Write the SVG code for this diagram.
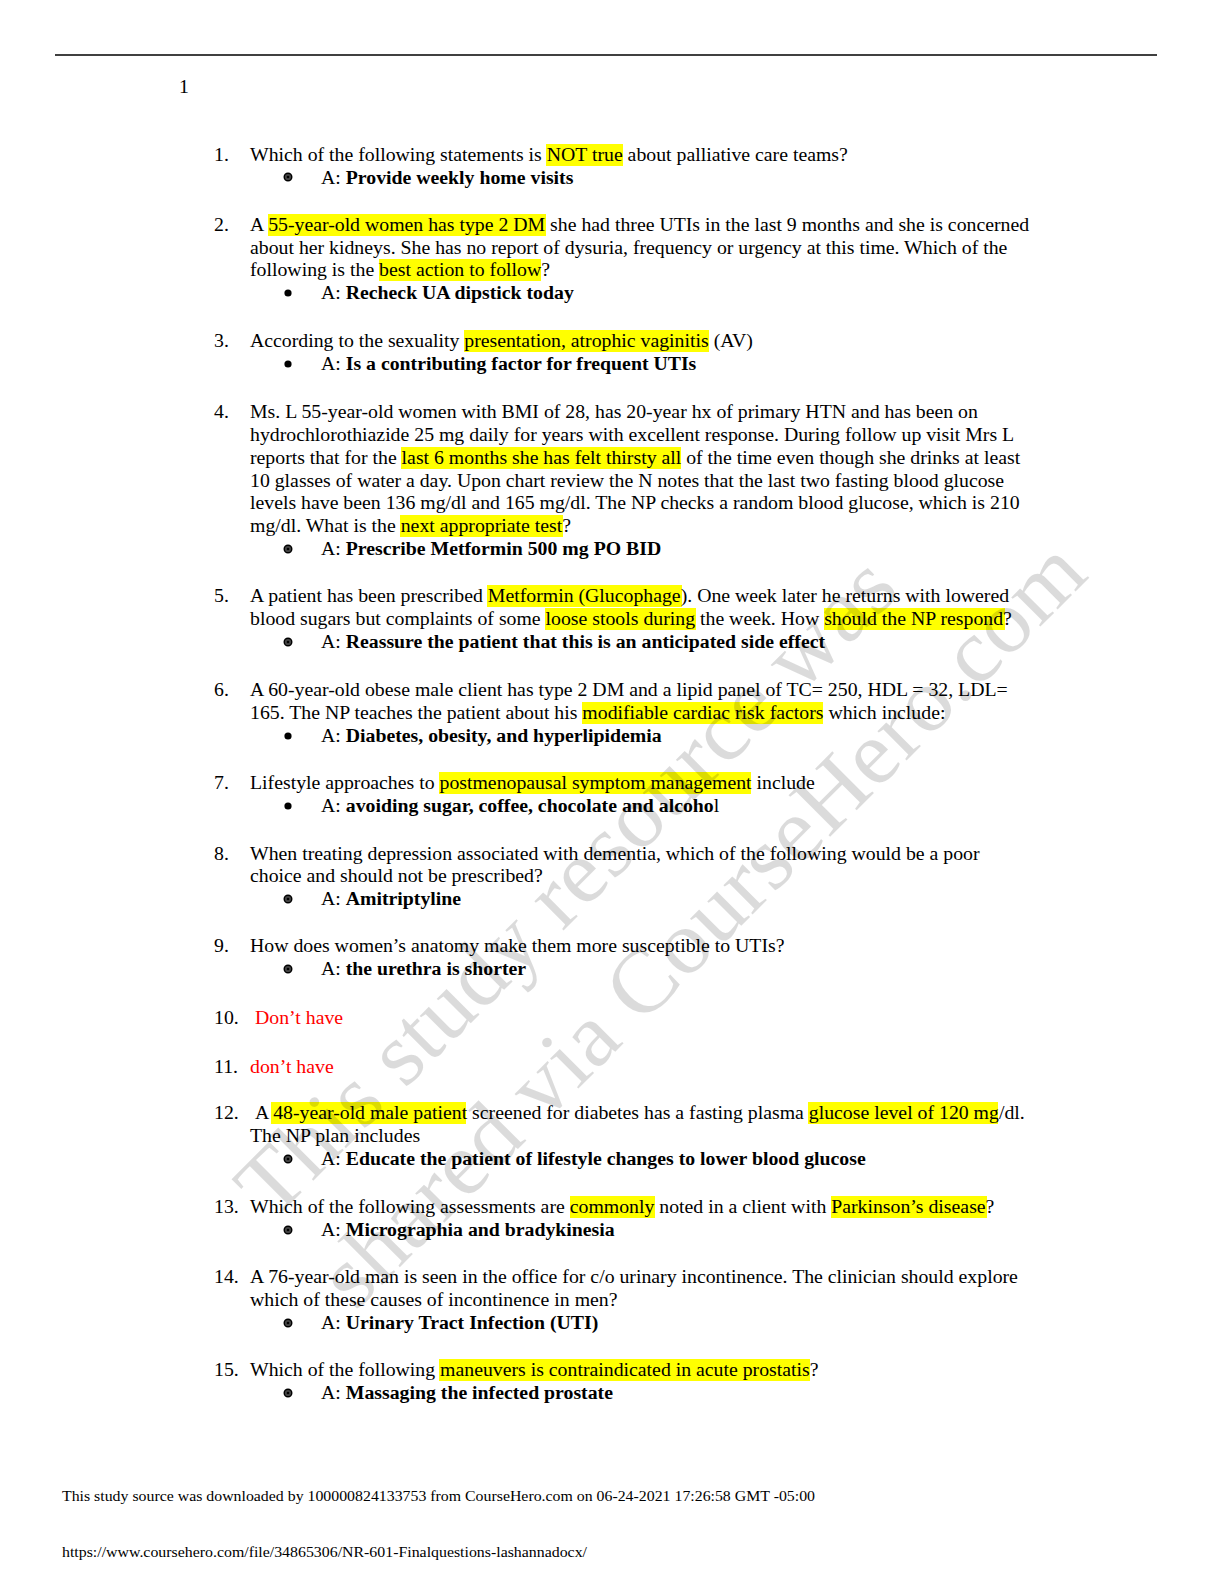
<svg xmlns="http://www.w3.org/2000/svg" width="1224" height="1584" viewBox="0 0 1224 1584">
<style>
.t{font-family:"Liberation Serif","Times New Roman",serif;font-size:19.8px;fill:#000}
.b{font-weight:bold}
.hl{fill:#ffff00}
.red{fill:#ff0000}
.wm{font-family:"Liberation Serif","Times New Roman",serif;font-size:90px;fill:#000;fill-opacity:0.14}
.ft{font-family:"Liberation Serif","Times New Roman",serif;font-size:15px;fill:#000}
</style>
<defs>
<g id="fish"><circle r="3.8" fill="#444" stroke="#000" stroke-width="1.4"/><circle r="1.3" fill="#000"/></g>
<circle id="dot" r="3.6" fill="#000"/>
</defs>
<rect width="1224" height="1584" fill="#fff"/>
<g id="header">
<line x1="55" y1="55" x2="1157" y2="55" stroke="#000" stroke-width="1.5"/>
<text class="t" x="179" y="93">1</text>
</g>
<g id="highlights">
<rect class="hl" x="546" y="144" width="77" height="22"/>
<rect class="hl" x="268" y="214" width="278" height="22"/>
<rect class="hl" x="379" y="259" width="162" height="22"/>
<rect class="hl" x="464" y="330" width="245" height="22"/>
<rect class="hl" x="401" y="447" width="280" height="22"/>
<rect class="hl" x="400" y="515" width="163" height="22"/>
<rect class="hl" x="487" y="585" width="195" height="22"/>
<rect class="hl" x="545" y="608" width="151" height="22"/>
<rect class="hl" x="824" y="608" width="181" height="22"/>
<rect class="hl" x="582" y="702" width="241" height="22"/>
<rect class="hl" x="439" y="772" width="312" height="22"/>
<rect class="hl" x="271" y="1102" width="195" height="22"/>
<rect class="hl" x="808" y="1102" width="190" height="22"/>
<rect class="hl" x="570" y="1196" width="85" height="22"/>
<rect class="hl" x="831" y="1196" width="156" height="22"/>
<rect class="hl" x="439" y="1359" width="371" height="22"/>
</g>
<g id="q1">
<text class="t" x="214" y="161">1.</text>
<text class="t" x="250" y="161">Which of the following statements is NOT true about palliative care teams?</text>
<use href="#fish" x="288" y="177"/>
<text class="t" x="321" y="184">A: <tspan class="b">Provide weekly home visits</tspan></text>
</g>
<g id="q2">
<text class="t" x="214" y="231">2.</text>
<text class="t" x="250" y="231">A 55-year-old women has type 2 DM she had three UTIs in the last 9 months and she is concerned</text>
<text class="t" x="250" y="254">about her kidneys. She has no report of dysuria, frequency or urgency at this time. Which of the</text>
<text class="t" x="250" y="276">following is the best action to follow?</text>
<use href="#dot" x="288" y="293"/>
<text class="t" x="321" y="299">A: <tspan class="b">Recheck UA dipstick today</tspan></text>
</g>
<g id="q3">
<text class="t" x="214" y="347">3.</text>
<text class="t" x="250" y="347">According to the sexuality presentation, atrophic vaginitis (AV)</text>
<use href="#dot" x="288" y="364"/>
<text class="t" x="321" y="370">A: <tspan class="b">Is a contributing factor for frequent UTIs</tspan></text>
</g>
<g id="q4">
<text class="t" x="214" y="418">4.</text>
<text class="t" x="250" y="418">Ms. L 55-year-old women with BMI of 28, has 20-year hx of primary HTN and has been on</text>
<text class="t" x="250" y="441">hydrochlorothiazide 25 mg daily for years with excellent response. During follow up visit Mrs L</text>
<text class="t" x="250" y="464">reports that for the last 6 months she has felt thirsty all of the time even though she drinks at least</text>
<text class="t" x="250" y="487">10 glasses of water a day. Upon chart review the N notes that the last two fasting blood glucose</text>
<text class="t" x="250" y="509">levels have been 136 mg/dl and 165 mg/dl. The NP checks a random blood glucose, which is 210</text>
<text class="t" x="250" y="532">mg/dl. What is the next appropriate test?</text>
<use href="#fish" x="288" y="549"/>
<text class="t" x="321" y="555">A: <tspan class="b">Prescribe Metformin 500 mg PO BID</tspan></text>
</g>
<g id="q5">
<text class="t" x="214" y="602">5.</text>
<text class="t" x="250" y="602">A patient has been prescribed Metformin (Glucophage). One week later he returns with lowered</text>
<text class="t" x="250" y="625">blood sugars but complaints of some loose stools during the week. How should the NP respond?</text>
<use href="#fish" x="288" y="642"/>
<text class="t" x="321" y="648">A: <tspan class="b">Reassure the patient that this is an anticipated side effect</tspan></text>
</g>
<g id="q6">
<text class="t" x="214" y="696">6.</text>
<text class="t" x="250" y="696">A 60-year-old obese male client has type 2 DM and a lipid panel of TC= 250, HDL = 32, LDL=</text>
<text class="t" x="250" y="719">165. The NP teaches the patient about his modifiable cardiac risk factors which include:</text>
<use href="#dot" x="288" y="736"/>
<text class="t" x="321" y="742">A: <tspan class="b">Diabetes, obesity, and hyperlipidemia</tspan></text>
</g>
<g id="q7">
<text class="t" x="214" y="789">7.</text>
<text class="t" x="250" y="789">Lifestyle approaches to postmenopausal symptom management include</text>
<use href="#dot" x="288" y="806"/>
<text class="t" x="321" y="812">A: <tspan class="b">avoiding sugar, coffee, chocolate and alcoho</tspan>l</text>
</g>
<g id="q8">
<text class="t" x="214" y="860">8.</text>
<text class="t" x="250" y="860">When treating depression associated with dementia, which of the following would be a poor</text>
<text class="t" x="250" y="882">choice and should not be prescribed?</text>
<use href="#fish" x="288" y="899"/>
<text class="t" x="321" y="905">A: <tspan class="b">Amitriptyline</tspan></text>
</g>
<g id="q9">
<text class="t" x="214" y="952">9.</text>
<text class="t" x="250" y="952">How does women’s anatomy make them more susceptible to UTIs?</text>
<use href="#fish" x="288" y="969"/>
<text class="t" x="321" y="975">A: <tspan class="b">the urethra is shorter</tspan></text>
</g>
<g id="q10">
<text class="t" x="214" y="1024">10.</text>
<text class="t red" x="255" y="1024">Don’t have</text>
</g>
<g id="q11">
<text class="t" x="214" y="1073">11.</text>
<text class="t red" x="250" y="1073">don’t have</text>
</g>
<g id="q12">
<text class="t" x="214" y="1119">12.</text>
<text class="t" x="255" y="1119">A 48-year-old male patient screened for diabetes has a fasting plasma glucose level of 120 mg/dl.</text>
<text class="t" x="250" y="1142">The NP plan includes</text>
<use href="#fish" x="288" y="1159"/>
<text class="t" x="321" y="1165">A: <tspan class="b">Educate the patient of lifestyle changes to lower blood glucose</tspan></text>
</g>
<g id="q13">
<text class="t" x="214" y="1213">13.</text>
<text class="t" x="250" y="1213">Which of the following assessments are commonly noted in a client with Parkinson’s disease?</text>
<use href="#fish" x="288" y="1230"/>
<text class="t" x="321" y="1236">A: <tspan class="b">Micrographia and bradykinesia</tspan></text>
</g>
<g id="q14">
<text class="t" x="214" y="1283">14.</text>
<text class="t" x="250" y="1283">A 76-year-old man is seen in the office for c/o urinary incontinence. The clinician should explore</text>
<text class="t" x="250" y="1306">which of these causes of incontinence in men?</text>
<use href="#fish" x="288" y="1323"/>
<text class="t" x="321" y="1329">A: <tspan class="b">Urinary Tract Infection (UTI)</tspan></text>
</g>
<g id="q15">
<text class="t" x="214" y="1376">15.</text>
<text class="t" x="250" y="1376">Which of the following maneuvers is contraindicated in acute prostatis?</text>
<use href="#fish" x="288" y="1393"/>
<text class="t" x="321" y="1399">A: <tspan class="b">Massaging the infected prostate</tspan></text>
</g>
<g id="footer">
<text class="ft" x="62" y="1501" textLength="753" lengthAdjust="spacingAndGlyphs">This study source was downloaded by 100000824133753 from CourseHero.com on 06-24-2021 17:26:58 GMT -05:00</text>
<text class="ft" x="62" y="1557" textLength="525" lengthAdjust="spacingAndGlyphs">https://www.coursehero.com/file/34865306/NR-601-Finalquestions-lashannadocx/</text>
</g>
<g id="watermark">
<text class="wm" transform="translate(272,1222) rotate(-45)" textLength="890" lengthAdjust="spacingAndGlyphs">This study resource was</text>
<text class="wm" transform="translate(355,1312) rotate(-45)" textLength="1040" lengthAdjust="spacingAndGlyphs">shared via CourseHero.com</text>
</g>
</svg>
